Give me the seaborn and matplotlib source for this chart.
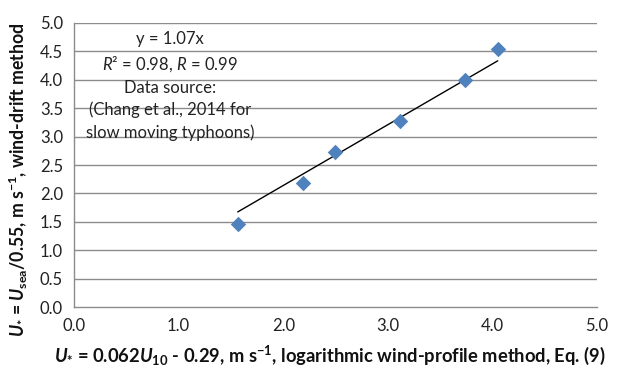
import numpy as np
import pandas as pd
import matplotlib
matplotlib.use("Agg")
import matplotlib.pyplot as plt
import seaborn as sns

# Friction velocity from the logarithmic wind profile vs. the wind-drift method
u_log = [1.565, 2.19, 2.495, 3.117, 3.735, 4.05]
u_drift = [1.46, 2.18, 2.73, 3.28, 4.00, 4.54]
slope = 1.07

x_ticks = [0.0, 1.0, 2.0, 3.0, 4.0, 5.0]
y_ticks = [0.0, 0.5, 1.0, 1.5, 2.0, 2.5, 3.0, 3.5, 4.0, 4.5, 5.0]

df = pd.DataFrame({"x": u_log, "y": u_drift})
fit = pd.DataFrame({"x": [min(u_log), max(u_log)]})
fit["y"] = slope * fit["x"]

sns.set_theme(style="white")
plt.rcParams["font.family"] = ["Lato", "DejaVu Sans"]
plt.rcParams["mathtext.fontset"] = "custom"
plt.rcParams["mathtext.rm"] = "Lato:bold"
plt.rcParams["mathtext.bf"] = "Lato:bold"
plt.rcParams["mathtext.it"] = "Lato:bold:italic"
plt.rcParams["mathtext.sf"] = "Lato:italic"

fig = plt.figure(figsize=(6.22, 3.70), dpi=100)
ax = fig.add_axes([0.119, 0.170, 0.841, 0.768])

grid_c = "#8c8c8c"
for yv in y_ticks[1:]:
    ax.axhline(yv, color=grid_c, lw=1.0, zorder=0)

sns.lineplot(data=fit, x="x", y="y", ax=ax, color="black", lw=1.0, zorder=2)
sns.scatterplot(data=df, x="x", y="y", ax=ax, marker="D", s=62,
                color="#4F81BD", linewidth=0, zorder=3)

ax.set_xlim(0, 5)
ax.set_ylim(0, 5)
ax.set_xticks(x_ticks)
ax.set_yticks(y_ticks)
ax.set_xticklabels([f"{v:.1f}" for v in x_ticks])
ax.set_yticklabels([f"{v:.1f}" for v in y_ticks])
ax.tick_params(axis="both", labelsize=12, colors="#222222", length=0)
ax.tick_params(axis="x", pad=8)
ax.tick_params(axis="y", pad=8)

for side in ["top", "right"]:
    ax.spines[side].set_visible(False)
for side in ["left", "bottom"]:
    ax.spines[side].set_color(grid_c)
    ax.spines[side].set_linewidth(1.0)

ax.set_xlabel(r"$U_{*}$ = 0.062$U_{10}$ - 0.29, m s$^{-1}$, logarithmic wind-profile method, Eq. (9)",
              fontsize=13.2, fontweight="bold", color="#111111")
ax.set_ylabel(r"$U_{*}$ = $U_{\mathrm{sea}}$/0.55, m s$^{-1}$, wind-drift method",
              fontsize=12.7, fontweight="bold", color="#111111")
ax.xaxis.set_label_coords(0.49, -0.13)
ax.yaxis.set_label_coords(-0.084, 0.447)

note = ("y = 1.07x\n"
        r"$\mathsf{R}$² = 0.98, $\mathsf{R}$ = 0.99" "\n"
        "Data source:\n"
        "(Chang et al., 2014 for\n"
        "slow moving typhoons)")
ax.text(0.918, 3.89, note, ha="center", va="center", fontsize=12,
        color="#222222", linespacing=1.45, zorder=4)

fig.savefig("out.png", dpi=100)
